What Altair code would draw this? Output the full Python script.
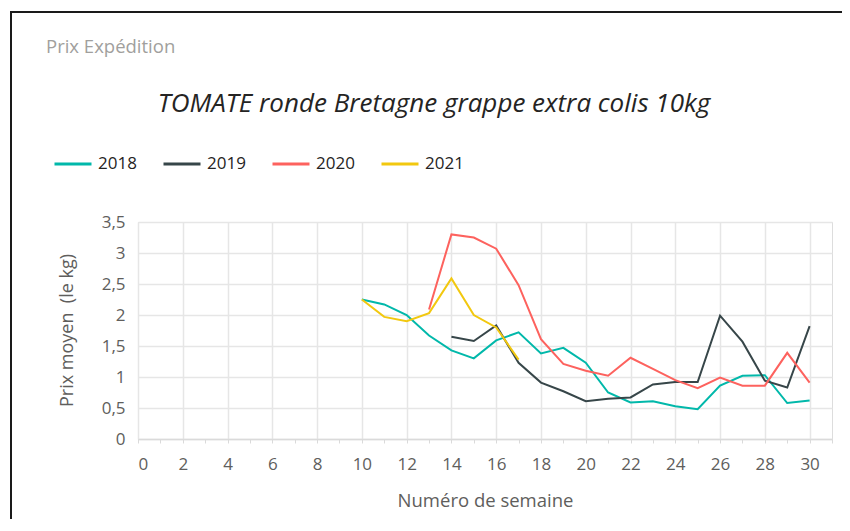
import altair as alt
import pandas as pd

# ---- data ----
weeks_2018 = list(range(10, 31))
prix_2018 = [2.25, 2.17, 2.00, 1.67, 1.43, 1.30, 1.59, 1.72, 1.38, 1.47, 1.23,
             0.75, 0.59, 0.61, 0.53, 0.48, 0.86, 1.02, 1.03, 0.58, 0.62]
weeks_2019 = list(range(14, 31))
prix_2019 = [1.65, 1.58, 1.83, 1.23, 0.91, 0.77, 0.61, 0.65, 0.67, 0.88, 0.92,
             0.92, 1.99, 1.57, 0.94, 0.83, 1.82]
weeks_2020 = list(range(13, 31))
prix_2020 = [2.09, 3.30, 3.25, 3.07, 2.48, 1.61, 1.21, 1.10, 1.02, 1.31, 1.13,
             0.95, 0.82, 0.99, 0.86, 0.86, 1.39, 0.91]
weeks_2021 = list(range(10, 18))
prix_2021 = [2.25, 1.97, 1.90, 2.03, 2.59, 2.00, 1.80, 1.28]

years = ["2018", "2019", "2020", "2021"]
colors = ["#01B8AA", "#374649", "#FD625E", "#F2C80F"]
x_ticks = list(range(0, 32))
y_ticks = [0, 0.5, 1, 1.5, 2, 2.5, 3, 3.5]

rows = []
for yr, wk, pr in [("2018", weeks_2018, prix_2018), ("2019", weeks_2019, prix_2019),
                   ("2020", weeks_2020, prix_2020), ("2021", weeks_2021, prix_2021)]:
    for w, p in zip(wk, pr):
        rows.append({"Semaine": w, "Prix": p, "Année": yr})
df = pd.DataFrame(rows)

FONT = "Open Sans"
GRAY = "#605E5C"
GRID = "#E6E6E6"

lines = alt.Chart(df).mark_line(strokeWidth=2).encode(
    x=alt.X("Semaine:Q",
            scale=alt.Scale(domain=[0, 31], nice=False, zero=False),
            axis=alt.Axis(
                values=x_ticks,
                title="Numéro de semaine",
                labelExpr="datum.value % 2 === 0 ? datum.label : ''",
                gridColor={"condition": {"test": "datum.value % 2 === 0", "value": GRID},
                           "value": "transparent"},
                gridWidth=1.5,
                domainColor="#DADADA",
                domainWidth=1.5,
                tickColor="#DADADA",
                tickSize=4,
                labelPadding=13,
                labelFontSize=17,
                labelColor=GRAY,
                labelFont=FONT,
                titleFont=FONT,
                titleFontSize=18.5,
                titleFontWeight="normal",
                titleColor=GRAY,
                titleY=61,
                titleBaseline="middle",
            )),
    y=alt.Y("Prix:Q",
            scale=alt.Scale(domain=[0, 3.5], nice=False),
            axis=alt.Axis(
                values=y_ticks,
                title="Prix moyen \u00a0(le kg)",
                labelExpr="replace(toString(datum.value), '.', ',')",
                domain=False,
                ticks=False,
                gridColor=GRID,
                gridWidth=1.5,
                labelPadding=13,
                labelFontSize=17,
                labelColor=GRAY,
                labelFont=FONT,
                titleFont=FONT,
                titleFontSize=18,
                titleFontWeight="normal",
                titleColor=GRAY,
                titleX=-71,
                titleY=108,
                titleBaseline="middle",
            )),
    color=alt.Color("Année:N",
                    scale=alt.Scale(domain=years, range=colors),
                    legend=alt.Legend(
                        orient="none",
                        legendX=-85,
                        legendY=-78,
                        direction="horizontal",
                        title=None,
                        symbolType="stroke",
                        symbolSize=1369,
                        symbolStrokeWidth=3,
                        labelOffset=5,
                        columnPadding=20,
                        labelFontSize=17,
                        labelFont=FONT,
                        labelColor="#252423",
                    )),
    detail="Année:N",
)

one = pd.DataFrame({"k": [0]})

subtitle = alt.Chart(one).mark_text(
    text="Prix Expédition", align="left", baseline="alphabetic",
    font=FONT, fontSize=18.5, color="#A19F9D"
).encode(x=alt.value(-92), y=alt.value(-169))

title = alt.Chart(one).mark_text(
    text="TOMATE ronde Bretagne grappe extra colis 10kg", align="center",
    baseline="alphabetic", font=FONT, fontSize=26, fontStyle="italic", color="#252423"
).encode(x=alt.value(296), y=alt.value(-110))

frame_top = alt.Chart(one).mark_rule(color="#1A1A1A", strokeWidth=2).encode(
    x=alt.value(-127), x2=alt.value(710), y=alt.value(-210))
frame_left = alt.Chart(one).mark_rule(color="#1A1A1A", strokeWidth=2).encode(
    x=alt.value(-127), y=alt.value(-211), y2=alt.value(300))

chart = alt.layer(frame_top, frame_left, subtitle, title, lines).properties(
    width=694,
    height=217,
    autosize=alt.AutoSizeParams(type="none"),
    padding={"left": 130, "top": 214, "right": 10, "bottom": 80},
).configure_view(stroke=None).configure(background="white")

chart.save("out.html", embed_options={"renderer": "svg", "actions": False})
